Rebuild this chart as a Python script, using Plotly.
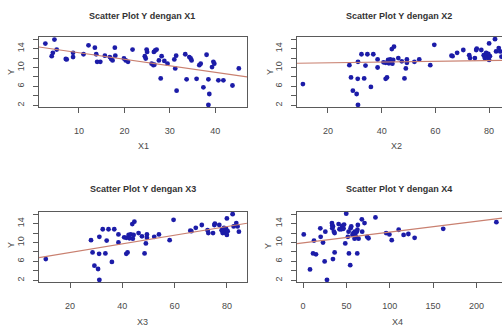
import plotly.graph_objects as go

# ---------------- data ----------------
y_ticks = [2, 4, 6, 8, 10, 12, 14, 16]
y_tick_labels = ["2", "", "6", "", "10", "", "14", ""]

x1 = [2.6, 4.6, 4.0, 4.25, 5.1, 7.1, 7.3, 8.7, 8.7, 11.0, 12.1, 13.5, 13.8, 14.0, 14.7,
      15.7, 16.8, 17.1, 17.4, 17.9, 18.0, 19.9, 20.3, 20.8, 21.8, 24.5, 24.7, 24.9, 25.0,
      26.0, 26.4, 26.6, 26.5, 26.8, 27.1, 27.6, 28.0, 28.2, 28.8, 29.5, 31.0, 31.4, 31.2,
      31.5, 33.4, 33.7, 34.3, 34.6, 34.8, 35.9, 36.5, 36.8, 37.4, 38.1, 38.5, 38.7, 38.5,
      39.3, 39.6, 39.8, 40.7, 41.8, 43.8, 45.2]
y1 = [15.05, 15.9, 12.4, 13.1, 13.8, 11.8, 11.7, 12.2, 13.1, 12.8, 14.7, 14.2, 12.8, 11.2, 11.2,
      12.5, 12.2, 11.8, 11.5, 14.2, 12.5, 11.9, 11.5, 11.2, 13.8, 12.4, 11.9, 13.8, 13.3,
      10.8, 10.5, 10.6, 13.3, 13.6, 13.8, 11.5, 7.7, 12.4, 11.4, 10.8, 11.7, 12.5, 9.8,
      5.1, 12.8, 7.5, 12.2, 11.9, 11.5, 7.6, 10.5, 10.8, 5.8, 12.7, 7.5, 4.4, 2.1,
      10.1, 11.2, 10.8, 7.3, 7.3, 6.2, 9.8]

x23 = [10.7, 28.0, 28.6, 29.3, 30.7, 31.2, 31.2, 31.1, 32.5, 33.5, 34.0, 34.7, 36.0, 36.9,
       38.5, 38.5, 40.7, 41.5, 41.5, 42.0, 42.4, 42.7, 43.2, 43.8, 44.0, 44.6, 44.3, 46.2,
       47.5, 48.5, 49.0, 49.4, 49.4, 52.2, 54.0, 58.1, 59.6, 66.0, 66.4, 68.1, 70.4, 72.6,
       72.9, 74.7, 75.2, 75.4, 77.1, 78.0, 78.4, 78.4, 78.8, 79.2, 79.6, 78.9, 79.7, 80.0,
       80.3, 80.0, 82.2, 82.6, 83.6, 84.1, 84.6]
y23 = [6.5, 10.5, 7.9, 5.1, 4.4, 2.1, 11.2, 7.6, 12.8, 7.7, 10.4, 12.8, 5.9, 12.8,
       11.7, 10.0, 11.1, 11.0, 7.6, 7.9, 11.6, 10.9, 11.7, 13.9, 10.8, 14.4, 11.6, 12.0,
       11.3, 7.7, 9.8, 11.7, 11.0, 11.2, 11.7, 10.5, 14.8, 12.5, 12.4, 13.1, 13.7, 12.6,
       12.0, 12.0, 13.7, 14.0, 13.7, 12.6, 12.3, 12.0, 12.8, 12.3, 12.0, 13.1, 12.9, 11.6,
       12.4, 15.1, 16.0, 13.4, 14.1, 13.4, 12.3]

x4 = [0.8, 8.0, 11.5, 14.9, 12.6, 19.9, 20.3, 23.0, 24.9, 25.7, 27.6, 33.3, 33.7, 34.5,
      33.7, 34.5, 35.6, 36.4, 36.4, 41.0, 42.0, 44.0, 45.0, 46.5, 47.3, 46.4, 48.7, 49.8,
      51.7, 52.5, 52.9, 54.4, 54.8, 55.6, 57.0, 58.0, 59.6, 60.4, 60.8, 62.0, 62.7, 59.4,
      62.5, 63.2, 64.0, 67.8, 68.2, 70.9, 73.9, 75.5, 83.5, 95.8, 99.6, 102.3, 110.3, 116.0,
      121.5, 128.7, 161.7, 223.0]
y4 = [11.7, 4.3, 7.7, 7.5, 10.4, 13.0, 11.2, 10.0, 6.0, 12.3, 2.1, 14.1, 13.6, 13.4,
      13.0, 6.5, 12.3, 12.0, 7.9, 13.9, 12.8, 12.8, 13.5, 13.0, 13.8, 12.9, 9.8, 16.1,
      11.2, 12.3, 7.7, 5.2, 13.0, 13.4, 11.6, 12.0, 12.3, 12.0, 11.3, 12.3, 12.7, 10.8,
      7.7, 13.7, 10.8, 14.9, 12.3, 14.1, 11.2, 10.9, 15.3, 12.0, 11.7, 10.5, 12.7, 11.6,
      11.8, 11.0, 12.9, 14.3]

# regression lines: (intercept, slope)
fit1 = (14.5, -0.138)
fit2 = (10.83, 0.0079)
fit3 = (6.05, 0.0915)
fit4 = (9.92, 0.0228)

titles = ["Scatter Plot Y dengan X1", "Scatter Plot Y dengan X2",
          "Scatter Plot Y dengan X3", "Scatter Plot Y dengan X4"]
x_titles = ["X1", "X2", "X3", "X4"]
x_tickvals = [[10, 20, 30, 40], [20, 40, 60, 80], [20, 40, 60, 80], [0, 50, 100, 150, 200]]
x_ranges = [[1.2, 47.0], [8.5, 84.8], [8.1, 87.7], [-7.0, 229.5]]

# ---------------- layout ----------------
W, H = 502, 331
FONT = "Liberation Sans, Arial, sans-serif"
TXT = "#4a4a4a"
AX = "#5a5a5a"
PT = "#1c1ca8"
LN = "#c98070"

# plot boxes in pixels: (left, right, top, bottom)
boxes = [(39, 247, 37, 107), (297, 502, 37, 107), (39, 247, 212, 282), (297, 502, 212, 282)]
title_pos = [(142, 15.5), (399, 15.5), (143, 189.5), (399, 189.5)]
xlab_pos = [(143, 145.5), (396, 145.5), (142, 322), (397, 322)]
ylab_pos = [(11, 72), (270, 72), (11, 245), (268, 246)]

series = [(x1, y1, fit1), (x23, y23, fit2), (x23, y23, fit3), (x4, y4, fit4)]

fig = go.Figure()
annotations = []
for i, ((xs, ys, fit), box) in enumerate(zip(series, boxes)):
    n = i + 1
    xa = "x" if n == 1 else f"x{n}"
    ya = "y" if n == 1 else f"y{n}"
    fig.add_trace(go.Scatter(x=xs, y=ys, mode="markers", xaxis=xa, yaxis=ya,
                             marker=dict(color=PT, size=4.8, line=dict(width=0)),
                             showlegend=False, hoverinfo="skip"))
    xr = x_ranges[i]
    b0, b1 = fit
    fig.add_trace(go.Scatter(x=xr, y=[b0 + b1 * xr[0], b0 + b1 * xr[1]], mode="lines",
                             xaxis=xa, yaxis=ya, line=dict(color=LN, width=1.1),
                             showlegend=False, hoverinfo="skip"))
    l, r, t, b = box
    right_cut = r >= W
    xkey = "xaxis" if n == 1 else f"xaxis{n}"
    ykey = "yaxis" if n == 1 else f"yaxis{n}"
    fig.layout[xkey] = dict(domain=[l / W, r / W], range=xr, anchor=ya,
                            tickvals=x_tickvals[i], ticks="outside", ticklen=5,
                            tickcolor=AX, showline=True, linecolor=AX, linewidth=1,
                            mirror=True, showgrid=False, zeroline=False,
                            tickfont=dict(family=FONT, size=9, color=TXT),
                            ticklabelstandoff=10, fixedrange=True)
    fig.layout[ykey] = dict(domain=[1 - b / H, 1 - t / H], range=[1.65, 16.45], anchor=xa,
                            tickvals=y_ticks, ticktext=y_tick_labels, tickangle=-90,
                            ticks="outside", ticklen=5, tickcolor=AX,
                            showline=True, linecolor=AX, linewidth=1,
                            mirror=(not right_cut), showgrid=False, zeroline=False,
                            tickfont=dict(family=FONT, size=9, color=TXT),
                            ticklabelstandoff=5, fixedrange=True)
    tx, ty = title_pos[i]
    annotations.append(dict(text=f"<b>{titles[i]}</b>", x=tx / W, y=1 - ty / H,
                            xref="paper", yref="paper", showarrow=False,
                            xanchor="center", yanchor="middle",
                            font=dict(family=FONT, size=9, color="#333333")))
    lx, ly = xlab_pos[i]
    annotations.append(dict(text=x_titles[i], x=lx / W, y=1 - ly / H,
                            xref="paper", yref="paper", showarrow=False,
                            xanchor="center", yanchor="middle",
                            font=dict(family=FONT, size=9, color=TXT)))
    yx, yy = ylab_pos[i]
    annotations.append(dict(text="Y", x=yx / W, y=1 - yy / H,
                            xref="paper", yref="paper", showarrow=False, textangle=-90,
                            xanchor="center", yanchor="middle",
                            font=dict(family=FONT, size=9, color=TXT)))

fig.update_layout(width=W, height=H, margin=dict(l=0, r=0, t=0, b=0),
                  paper_bgcolor="white", plot_bgcolor="white",
                  annotations=annotations)

fig.write_html("out.html", config={"displayModeBar": False, "staticPlot": True},
               post_script="document.body.style.margin='0';")
